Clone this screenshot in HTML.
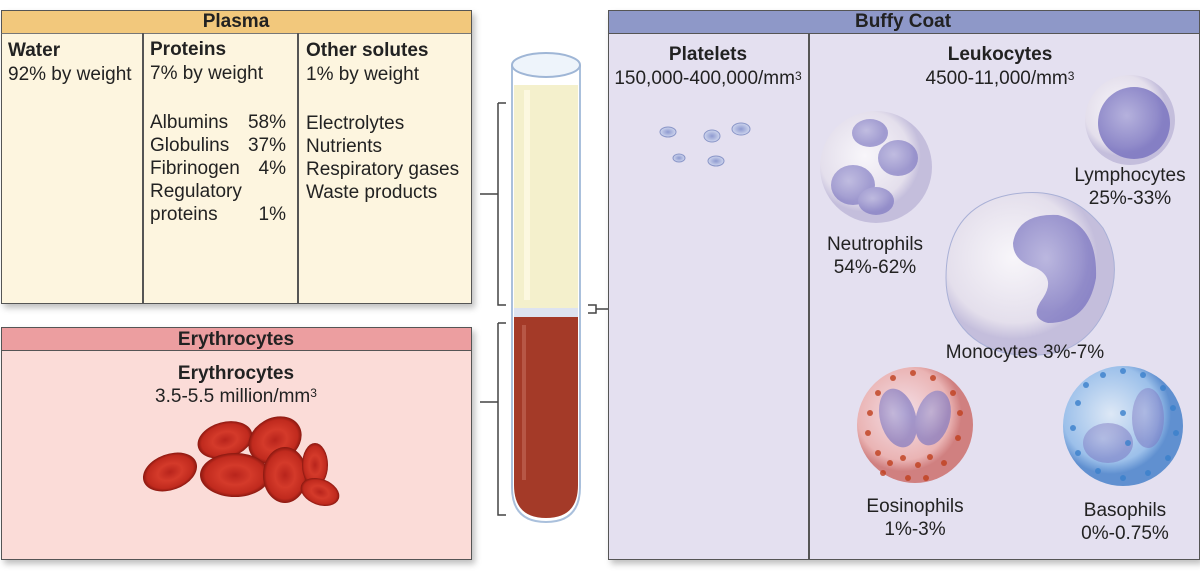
<!DOCTYPE html>
<html><head><style>
body{margin:0;width:1200px;height:574px;background:#fff;position:relative;font-family:"Liberation Sans",Arial,sans-serif;color:#222;overflow:hidden}
.a{position:absolute}
.t{position:absolute;font-size:19px;line-height:23px;white-space:nowrap}
.h{line-height:24px}
b{font-weight:bold}
.c{text-align:center}
sup{font-size:12px;vertical-align:top;position:relative;top:-3px}
</style></head><body>
<!-- Plasma -->
<div class="a" style="left:1px;top:10px;width:469px;height:292px;background:#fdf5df;border:1.5px solid #555;box-shadow:3px 4px 6px rgba(0,0,0,.25)"></div>
<div class="a" style="left:1px;top:10px;width:469px;height:22px;background:#f2c87c;border:1.5px solid #555;border-bottom:1.5px solid #777"></div>
<div class="t c" style="left:1px;top:10px;width:470px;font-weight:bold">Plasma</div>
<div class="a" style="left:142px;top:33px;width:1.5px;height:270px;background:#555"></div>
<div class="a" style="left:297px;top:33px;width:1.5px;height:270px;background:#555"></div>
<div class="t h" style="left:8px;top:39px"><b>Water</b><br>92% by weight</div>
<div class="t h" style="left:150px;top:38px"><b>Proteins</b><br>7% by weight</div>
<div class="t" style="left:150px;top:111px">Albumins<br>Globulins<br>Fibrinogen<br>Regulatory<br>proteins</div>
<div class="t" style="left:226px;top:111px;width:60px;text-align:right">58%<br>37%<br>4%<br><br>1%</div>
<div class="t h" style="left:306px;top:39px"><b>Other solutes</b><br>1% by weight</div>
<div class="t" style="left:306px;top:112px">Electrolytes<br>Nutrients<br>Respiratory gases<br>Waste products</div>
<!-- Erythrocytes -->
<div class="a" style="left:1px;top:327px;width:469px;height:231px;background:#fbdcd8;border:1.5px solid #555;box-shadow:3px 4px 6px rgba(0,0,0,.25)"></div>
<div class="a" style="left:1px;top:327px;width:469px;height:22px;background:#ec9ea0;border:1.5px solid #555"></div>
<div class="t c" style="left:1px;top:328px;width:470px;font-weight:bold">Erythrocytes</div>
<div class="t c" style="left:1px;top:362px;width:470px"><b>Erythrocytes</b><br>3.5-5.5 million/mm<sup>3</sup></div>
<svg class="a" style="left:130px;top:410px" width="220" height="110">
<defs><radialGradient id="r"><stop offset="0" stop-color="#b8241c"/><stop offset=".45" stop-color="#d43a2a"/><stop offset=".85" stop-color="#c02a1e"/><stop offset="1" stop-color="#8a1810"/></radialGradient></defs>
<g fill="url(#r)">
<ellipse cx="95" cy="30" rx="28" ry="18" transform="rotate(-15 95 30)"/>
<ellipse cx="145" cy="30" rx="28" ry="22" transform="rotate(-30 145 30)"/>
<ellipse cx="40" cy="62" rx="28" ry="18" transform="rotate(-20 40 62)"/>
<ellipse cx="105" cy="65" rx="35" ry="22"/>
<ellipse cx="155" cy="65" rx="22" ry="28"/>
<ellipse cx="185" cy="55" rx="13" ry="22"/>
<ellipse cx="190" cy="82" rx="20" ry="13" transform="rotate(20 190 82)"/>
</g></svg>
<!-- Tube -->
<svg class="a" style="left:480px;top:40px" width="130" height="490">
<path d="M18 63H26M18 63V265H26M0 154H18" stroke="#444" stroke-width="1.5" fill="none"/>
<path d="M18 283H26M18 283V475H26M0 362H18" stroke="#444" stroke-width="1.5" fill="none"/>
<path d="M108 265H116V273H108M116 269H130" stroke="#444" stroke-width="1.5" fill="none"/>
<path d="M34 45V272H98V45Z" fill="#f4f0cc"/>
<rect x="44" y="50" width="6" height="210" fill="#fffbe8" opacity=".7"/>
<path d="M34 276H98V445Q98 478 66 478Q34 478 34 445Z" fill="#a43a28"/>
<rect x="34" y="268" width="64" height="9" fill="#dde3f0"/>
<path d="M32 25V447Q32 482 66 482Q100 482 100 447V25" fill="none" stroke="#aac0dc" stroke-width="2"/>
<ellipse cx="66" cy="25" rx="34" ry="12" fill="#eef4fb" stroke="#9fb6d6" stroke-width="2"/>
<rect x="42" y="285" width="4" height="155" fill="#c46a5a" opacity=".6"/>
</svg>
<!-- Buffy coat -->
<div class="a" style="left:608px;top:10px;width:590px;height:548px;background:#e4e0f0;border:1.5px solid #555;box-shadow:3px 4px 6px rgba(0,0,0,.25)"></div>
<div class="a" style="left:608px;top:10px;width:590px;height:22px;background:#8e98c8;border:1.5px solid #555"></div>
<div class="t c" style="left:608px;top:10px;width:590px;font-weight:bold">Buffy Coat</div>
<div class="a" style="left:808px;top:33px;width:1.5px;height:526px;background:#555"></div>
<div class="t c h" style="left:608px;top:43px;width:200px"><b>Platelets</b><br>150,000-400,000/mm<sup>3</sup></div>
<div class="t c h" style="left:860px;top:43px;width:280px"><b>Leukocytes</b><br>4500-11,000/mm<sup>3</sup></div>
<svg class="a" style="left:608px;top:33px" width="590" height="525">
<defs>
<radialGradient id="p"><stop offset="0" stop-color="#8e9ad0"/><stop offset="1" stop-color="#cfd6ee"/></radialGradient>
<radialGradient id="w" cx=".4" cy=".4"><stop offset="0" stop-color="#f8f6fa"/><stop offset=".8" stop-color="#e4dfec"/><stop offset="1" stop-color="#c4bedc"/></radialGradient>
<radialGradient id="n" cx=".4" cy=".4"><stop offset="0" stop-color="#aaa6d8"/><stop offset="1" stop-color="#7a74c0"/></radialGradient>
<radialGradient id="e" cx=".4" cy=".4"><stop offset="0" stop-color="#f4e0e8"/><stop offset=".8" stop-color="#eab4b4"/><stop offset="1" stop-color="#d08080"/></radialGradient>
<radialGradient id="b" cx=".4" cy=".4"><stop offset="0" stop-color="#dde8f6"/><stop offset=".8" stop-color="#9cc0ea"/><stop offset="1" stop-color="#6090d0"/></radialGradient>
</defs>
<g fill="url(#p)" stroke="#8a96c8" stroke-width="1">
<ellipse cx="60" cy="99" rx="8" ry="5"/><ellipse cx="104" cy="103" rx="8" ry="6"/><ellipse cx="133" cy="96" rx="9" ry="6"/>
<ellipse cx="71" cy="125" rx="6" ry="4"/><ellipse cx="108" cy="128" rx="8" ry="5"/></g>
<!-- neutrophil -->
<circle cx="268" cy="134" r="56" fill="url(#w)"/>
<g fill="url(#n)" opacity=".65"><ellipse cx="245" cy="152" rx="22" ry="20"/><ellipse cx="290" cy="125" rx="20" ry="18"/><ellipse cx="262" cy="100" rx="18" ry="14"/><ellipse cx="268" cy="168" rx="18" ry="14"/></g>
<!-- lymphocyte -->
<circle cx="522" cy="87" r="45" fill="url(#w)"/>
<circle cx="526" cy="90" r="36" fill="url(#n)" opacity=".85"/>
<!-- monocyte -->
<path d="M338 245Q338 175 400 162Q460 150 495 195Q515 230 500 270Q480 320 430 322Q380 325 355 295Q338 275 338 245Z" fill="url(#w)" stroke="#a9b0d6"/>
<path d="M405 210Q410 180 450 182Q490 192 488 245Q480 290 440 290Q420 285 435 265Q448 245 428 235Q405 228 405 210Z" fill="url(#n)" opacity=".75"/>
<!-- eosinophil -->
<circle cx="307" cy="392" r="58" fill="url(#e)"/>
<g fill="url(#n)" opacity=".65"><ellipse cx="290" cy="385" rx="18" ry="30" transform="rotate(-15 290 385)"/><ellipse cx="325" cy="385" rx="17" ry="28" transform="rotate(15 325 385)"/></g>
<!-- basophil -->
<circle cx="515" cy="393" r="60" fill="url(#b)"/>
<g fill="url(#n)" opacity=".5"><ellipse cx="500" cy="410" rx="25" ry="20"/><ellipse cx="540" cy="385" rx="16" ry="30"/></g>
<g fill="#c0401e" opacity=".8">
<circle cx="270" cy="420" r="3"/><circle cx="282" cy="430" r="3"/><circle cx="295" cy="425" r="3"/><circle cx="310" cy="432" r="3"/><circle cx="322" cy="424" r="3"/><circle cx="336" cy="430" r="3"/><circle cx="260" cy="400" r="3"/><circle cx="262" cy="380" r="3"/><circle cx="270" cy="360" r="3"/><circle cx="285" cy="345" r="3"/><circle cx="305" cy="340" r="3"/><circle cx="325" cy="345" r="3"/><circle cx="345" cy="360" r="3"/><circle cx="352" cy="380" r="3"/><circle cx="350" cy="405" r="3"/><circle cx="300" cy="445" r="3"/><circle cx="318" cy="445" r="3"/><circle cx="275" cy="440" r="3"/></g>
<g fill="#3a80cc" opacity=".8">
<circle cx="470" cy="370" r="3"/><circle cx="478" cy="352" r="3"/><circle cx="495" cy="342" r="3"/><circle cx="515" cy="338" r="3"/><circle cx="535" cy="342" r="3"/><circle cx="555" cy="355" r="3"/><circle cx="565" cy="375" r="3"/><circle cx="568" cy="400" r="3"/><circle cx="560" cy="425" r="3"/><circle cx="540" cy="440" r="3"/><circle cx="515" cy="445" r="3"/><circle cx="490" cy="438" r="3"/><circle cx="470" cy="420" r="3"/><circle cx="465" cy="395" r="3"/><circle cx="515" cy="380" r="3"/><circle cx="520" cy="410" r="3"/></g>
</svg>
<div class="t c" style="left:810px;top:233px;width:130px">Neutrophils<br>54%-62%</div>
<div class="t c" style="left:1060px;top:164px;width:140px">Lymphocytes<br>25%-33%</div>
<div class="t c" style="left:935px;top:341px;width:180px">Monocytes 3%-7%</div>
<div class="t c" style="left:845px;top:495px;width:140px">Eosinophils<br>1%-3%</div>
<div class="t c" style="left:1060px;top:499px;width:130px">Basophils<br>0%-0.75%</div>
</body></html>
